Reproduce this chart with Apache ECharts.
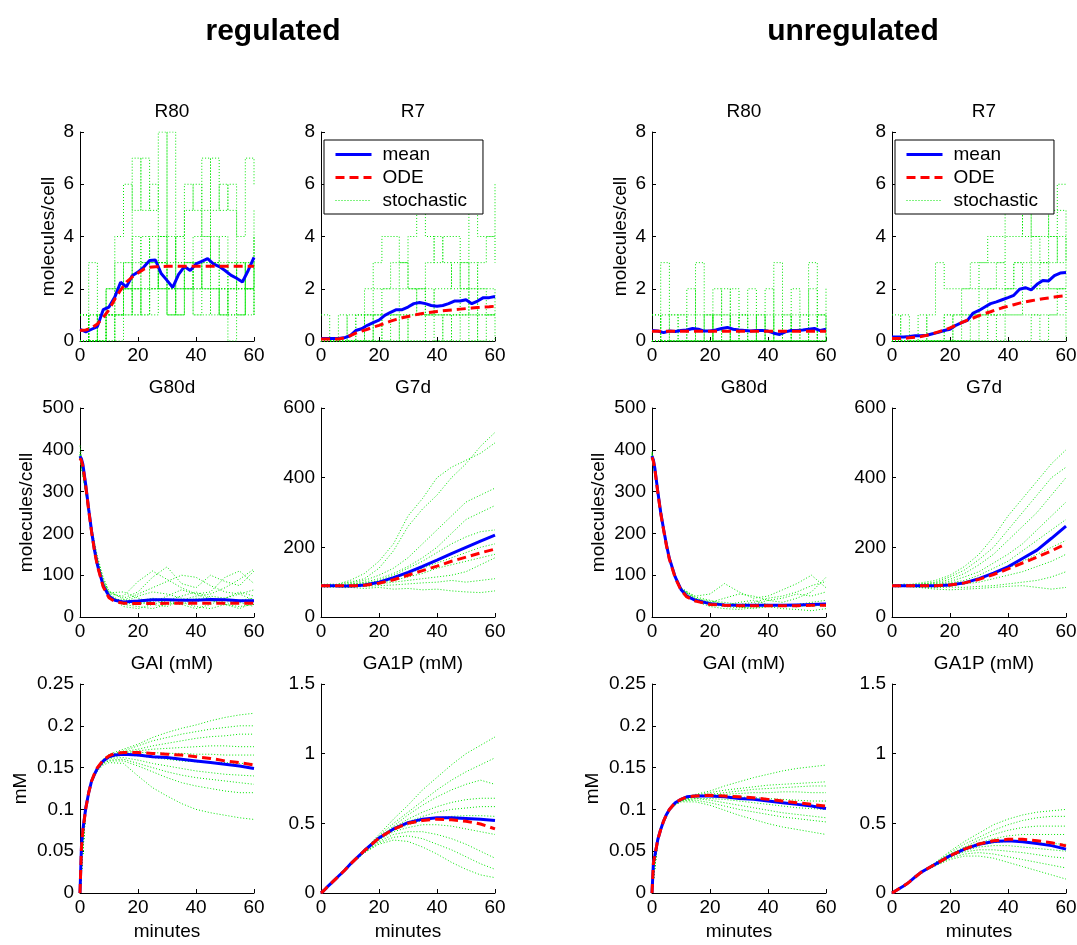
<!DOCTYPE html>
<html>
<head>
<meta charset="utf-8">
<script src="https://cdn.jsdelivr.net/npm/echarts@6/dist/echarts.min.js"></script>
<style>
  html, body { margin: 0; padding: 0; background: #fff; }
  #main { width: 1077px; height: 945px; }
</style>
</head>
<body>
<div id="main"></div>
<script>
// time grids, minutes
const tStep = [0,2,4,6,8,10,12,14,16,18,20,22,24,26,28,30,32,34,36,38,40,42,44,46,48,50,52,54,56,58,60];
const tSmooth = [0,0.5,1,2,3,4,5,6,8,10,12,15,20,25,30,35,40,45,50,55,60];
const tJump = [0,3,6,9,12,15,18,21,24,27,30,33,36,39,42,45,48,51,54,57,60];
const tCont = [0,2,4,6,8,10,15,20,25,30,35,40,45,50,55,60];

// ---- regulated ----
const regR80Mean = [0.45,0.35,0.45,0.55,1.2,1.3,1.68,2.25,2.07,2.5,2.64,2.83,3.08,3.1,2.58,2.32,2.05,2.55,2.85,2.7,2.95,3.05,3.15,2.95,2.85,2.7,2.52,2.4,2.26,2.7,3.2];
const regR80Ode = [0.4,0.42,0.5,0.65,0.9,1.2,1.6,1.95,2.25,2.45,2.6,2.75,2.82,2.84,2.85,2.86,2.86,2.86,2.86,2.86,2.86,2.86,2.86,2.86,2.86,2.86,2.86,2.86,2.86,2.86,2.86];
const regR80Stoch = [
  [0,3,1,2,4,6,5,7,5,8,4,3,5,6,4,7,5,6,4,7,6],
  [1,0,0,1,2,3,4,3,4,3,8,2,3,4,5,3,4,3,2,3,4],
  [0,0,1,0,1,2,2,3,3,2,1,2,3,2,3,4,3,2,3,2,3],
  [0,1,0,2,3,2,7,5,6,4,3,4,6,5,7,5,6,5,3,2,5],
  [1,0,0,1,1,2,1,2,3,4,2,1,2,3,2,2,1,2,1,2,1],
  [0,0,1,2,2,1,2,1,2,3,2,3,2,3,4,3,2,1,2,1,3],
  [0,1,0,0,1,2,3,4,3,2,1,2,3,3,2,1,2,3,2,3,4],
  [1,0,0,1,0,1,2,3,2,3,2,4,3,2,3,2,1,2,3,2,2],
  [0,0,1,1,2,3,2,1,2,3,2,1,2,1,2,3,2,1,1,2,3],
  [1,0,0,1,1,2,1,2,1,2,1,1,2,1,1,2,1,0,1,2,1]
];
const regR7Mean = [0.1,0.1,0.1,0.1,0.12,0.2,0.4,0.47,0.6,0.7,0.8,0.98,1.1,1.2,1.2,1.3,1.43,1.47,1.43,1.36,1.33,1.36,1.43,1.53,1.53,1.58,1.43,1.53,1.66,1.66,1.7];
const regR7Ode = [0.08,0.08,0.08,0.08,0.12,0.2,0.3,0.38,0.45,0.53,0.6,0.68,0.76,0.83,0.89,0.94,0.99,1.03,1.07,1.1,1.13,1.16,1.18,1.2,1.22,1.24,1.26,1.28,1.3,1.31,1.33];
const regR7Stoch = [
  [0,0,0,0,1,2,3,4,4,3,4,5,4,3,4,4,3,5,4,4,6],
  [0,0,0,1,1,1,2,2,3,3,2,2,3,4,3,2,3,2,3,4,3],
  [1,0,0,0,0,1,1,2,2,3,2,2,1,2,2,3,2,3,2,2,2],
  [0,0,0,0,1,0,1,1,1,2,2,1,2,1,1,1,2,1,2,1,2],
  [0,0,0,0,0,0,0,1,1,1,1,2,1,1,1,1,1,2,1,1,1],
  [0,0,0,0,0,1,0,0,1,0,1,1,1,1,0,1,1,0,1,1,1],
  [0,0,1,0,0,0,1,0,0,1,0,0,1,0,1,0,1,1,0,1,0],
  [0,0,0,0,0,0,0,0,0,0,0,0,0,0,0,0,0,0,0,0,0]
];
const regG80Mean = [385,378,365,315,258,205,160,125,75,50,40,36,38,41,41,40,40,42,41,39,39];
const regG80Ode = [380,374,360,312,255,203,158,122,72,46,37,33,32,32,33,33,33,33,33,33,33];
const regG80Stoch = [
  [390,310,210,140,90,60,45,60,95,120,80,70,100,85,75,110],
  [385,300,195,125,75,50,35,30,40,35,30,45,40,30,35,25],
  [380,295,200,130,85,55,50,85,110,90,70,55,60,95,110,80],
  [395,305,205,128,78,48,30,25,20,30,35,25,20,30,25,30],
  [388,302,198,122,70,45,40,55,70,85,100,95,75,60,55,65],
  [382,298,192,120,72,52,30,38,45,40,50,60,45,35,40,45],
  [410,315,215,145,95,62,42,35,30,25,40,50,55,70,90,115],
  [386,300,200,130,80,50,25,20,30,40,30,20,30,45,55,40],
  [384,296,197,126,82,58,60,45,35,50,65,55,40,30,20,35],
  [380,300,205,132,88,54,35,50,60,55,45,35,50,45,60,50]
];
const regG7Mean = [90,90,90,90,90,90,90,89,89,89,90,92,100,113,128,145,163,182,200,218,235];
const regG7Ode = [90,90,90,90,90,90,90,90,90,90,90,91,97,107,120,133,146,160,172,184,195];
const regG7Stoch = [
  [92,95,90,94,98,100,110,140,190,260,310,350,400,440,490,530],
  [88,90,92,95,100,105,125,160,210,290,340,400,430,450,470,500],
  [90,88,91,90,95,98,105,120,140,170,210,250,290,330,350,370],
  [95,92,90,93,90,94,100,110,125,145,170,200,240,280,300,320],
  [90,93,95,90,92,90,95,105,120,140,160,185,210,230,245,250],
  [88,90,87,89,92,95,98,102,110,125,140,155,170,185,200,210],
  [92,90,93,91,90,92,95,100,105,115,125,140,150,160,170,180],
  [90,88,85,88,90,88,92,95,100,105,110,115,120,130,150,170],
  [93,92,90,88,85,86,88,90,92,95,98,100,105,100,105,110],
  [87,85,88,86,84,85,82,85,80,82,78,80,75,72,70,75]
];
const regGaiMean = [0,0.056,0.076,0.102,0.12,0.134,0.142,0.149,0.158,0.163,0.165,0.166,0.165,0.163,0.162,0.16,0.158,0.156,0.154,0.152,0.149];
const regGaiOde = [0,0.054,0.075,0.101,0.12,0.134,0.143,0.15,0.159,0.164,0.167,0.168,0.168,0.167,0.166,0.165,0.163,0.161,0.158,0.156,0.153];
const regGaiStoch = [
  [0,0.103,0.136,0.151,0.16,0.166,0.172,0.178,0.186,0.192,0.197,0.201,0.206,0.21,0.213,0.215],
  [0,0.101,0.134,0.15,0.159,0.165,0.17,0.176,0.182,0.186,0.19,0.193,0.196,0.198,0.2,0.2],
  [0,0.102,0.135,0.149,0.158,0.164,0.169,0.172,0.176,0.179,0.182,0.185,0.187,0.188,0.19,0.19],
  [0,0.1,0.133,0.148,0.157,0.163,0.168,0.17,0.172,0.173,0.174,0.175,0.176,0.176,0.175,0.175],
  [0,0.102,0.134,0.149,0.158,0.163,0.167,0.168,0.168,0.167,0.167,0.166,0.166,0.165,0.165,0.165],
  [0,0.101,0.133,0.148,0.157,0.162,0.165,0.164,0.162,0.16,0.158,0.157,0.156,0.156,0.155,0.155],
  [0,0.103,0.135,0.149,0.157,0.161,0.162,0.159,0.155,0.152,0.149,0.146,0.144,0.142,0.141,0.14],
  [0,0.1,0.132,0.147,0.155,0.159,0.16,0.155,0.15,0.145,0.141,0.138,0.136,0.134,0.132,0.13],
  [0,0.101,0.133,0.147,0.155,0.158,0.158,0.152,0.145,0.138,0.132,0.128,0.125,0.122,0.12,0.12],
  [0,0.102,0.133,0.146,0.153,0.156,0.155,0.14,0.126,0.116,0.107,0.1,0.096,0.093,0.09,0.088]
];
const regGa1pMean = [0,0.008,0.018,0.04,0.06,0.08,0.1,0.12,0.16,0.205,0.245,0.305,0.395,0.46,0.505,0.53,0.54,0.54,0.535,0.53,0.52];
const regGa1pOde = [0,0.008,0.018,0.04,0.06,0.08,0.1,0.12,0.16,0.205,0.245,0.305,0.395,0.458,0.5,0.52,0.53,0.525,0.515,0.495,0.46];
const regGa1pStoch = [
  [0,0.04,0.08,0.12,0.16,0.2,0.31,0.42,0.53,0.63,0.74,0.83,0.92,1.0,1.06,1.12],
  [0,0.04,0.08,0.12,0.16,0.205,0.31,0.41,0.5,0.58,0.66,0.74,0.81,0.87,0.92,0.97],
  [0,0.04,0.08,0.12,0.16,0.2,0.3,0.4,0.48,0.56,0.63,0.69,0.74,0.78,0.81,0.78],
  [0,0.04,0.08,0.12,0.16,0.2,0.3,0.4,0.47,0.53,0.58,0.62,0.65,0.67,0.68,0.68],
  [0,0.04,0.08,0.12,0.16,0.2,0.3,0.39,0.46,0.51,0.55,0.58,0.6,0.61,0.62,0.62],
  [0,0.04,0.08,0.12,0.16,0.2,0.3,0.39,0.45,0.49,0.52,0.54,0.55,0.555,0.555,0.55],
  [0,0.04,0.08,0.12,0.16,0.2,0.3,0.38,0.44,0.47,0.49,0.49,0.48,0.46,0.44,0.42],
  [0,0.04,0.08,0.12,0.16,0.2,0.29,0.37,0.42,0.44,0.44,0.42,0.39,0.35,0.3,0.25],
  [0,0.04,0.08,0.12,0.16,0.2,0.29,0.36,0.4,0.41,0.39,0.35,0.31,0.26,0.21,0.17],
  [0,0.04,0.08,0.12,0.16,0.2,0.29,0.35,0.38,0.37,0.33,0.28,0.22,0.17,0.13,0.11]
];

// ---- unregulated ----
const unregR80Mean = [0.4,0.38,0.32,0.38,0.36,0.4,0.42,0.48,0.45,0.38,0.38,0.42,0.48,0.52,0.45,0.42,0.4,0.38,0.4,0.4,0.38,0.3,0.25,0.35,0.4,0.4,0.42,0.45,0.48,0.4,0.45];
const unregR80Ode = [0.37,0.37,0.37,0.37,0.37,0.37,0.37,0.37,0.37,0.37,0.37,0.37,0.37,0.37,0.37,0.37,0.37,0.37,0.37,0.37,0.37,0.37,0.37,0.37,0.37,0.37,0.37,0.37,0.37,0.37,0.37];
const unregR80Stoch = [
  [0,3,1,0,0,3,1,0,0,1,0,0,1,0,3,1,0,0,3,1,0],
  [1,0,0,1,2,0,0,1,2,0,1,2,0,0,1,0,2,1,2,0,1],
  [0,1,0,0,1,1,0,2,1,0,0,1,0,1,0,0,1,0,0,1,2],
  [0,0,1,1,0,0,1,0,0,2,1,0,0,2,0,1,0,1,0,0,0],
  [0,0,0,0,0,0,0,1,0,0,1,0,0,0,0,0,0,0,1,0,0],
  [1,0,0,0,0,0,0,0,1,0,0,0,1,0,0,0,0,0,0,0,0],
  [0,0,0,0,0,0,0,0,0,0,0,0,0,0,0,0,0,0,0,1,0],
  [0,0,0,0,0,0,1,0,0,0,0,0,0,0,0,0,0,0,0,0,0]
];
const unregR7Mean = [0.15,0.15,0.15,0.17,0.2,0.2,0.22,0.28,0.33,0.4,0.45,0.6,0.7,0.79,1.07,1.17,1.3,1.43,1.5,1.58,1.66,1.75,1.98,2.04,1.96,2.17,2.32,2.3,2.5,2.6,2.62];
const unregR7Ode = [0.1,0.1,0.1,0.12,0.14,0.17,0.22,0.28,0.35,0.42,0.5,0.6,0.7,0.8,0.88,0.97,1.05,1.12,1.2,1.27,1.33,1.39,1.45,1.5,1.54,1.58,1.62,1.65,1.68,1.71,1.73];
const unregR7Stoch = [
  [0,0,0,0,1,3,2,2,2,3,3,4,4,5,5,4,5,5,4,6,6],
  [0,0,0,0,0,0,1,1,2,2,3,3,3,4,4,5,4,4,5,5,4],
  [1,0,0,0,0,0,0,1,1,1,2,2,3,2,3,3,4,3,4,3,4],
  [0,0,0,0,0,0,0,0,1,1,1,2,2,2,3,2,3,3,3,4,3],
  [0,1,0,0,0,0,0,0,0,1,1,1,1,2,2,2,2,3,2,2,3],
  [0,0,0,1,0,0,0,0,0,0,1,1,1,1,1,2,2,2,2,2,2],
  [0,0,0,0,0,0,1,0,0,0,0,1,0,1,1,1,1,1,1,2,1],
  [0,0,0,0,0,0,0,0,0,0,0,0,0,0,0,0,1,0,1,1,0]
];
const unregG80Mean = [385,375,355,300,250,210,172,140,96,66,50,40,32,29,28,28,28,28,29,30,31];
const unregG80Ode = [382,372,352,298,248,208,170,138,94,64,48,38,30,28,27,27,27,27,27,28,28];
const unregG80Stoch = [
  [390,305,215,145,100,70,45,35,30,25,30,40,35,45,60,95],
  [385,300,210,140,98,68,42,30,28,35,40,30,25,30,35,40],
  [380,298,208,138,95,65,50,55,80,60,45,50,65,80,100,70],
  [395,310,212,142,96,64,38,25,20,18,22,25,20,18,15,20],
  [388,302,206,140,94,66,40,35,45,55,50,40,45,55,50,60],
  [382,300,210,138,97,70,48,40,30,25,20,25,30,28,25,30],
  [392,308,214,144,99,67,44,38,35,30,35,45,50,60,75,85],
  [386,304,208,139,95,63,36,30,25,22,25,30,28,24,30,25]
];
const unregG7Mean = [90,90,90,90,90,90,90,90,90,90,90,90,92,98,110,126,144,168,192,226,261];
const unregG7Ode = [90,90,90,90,90,90,90,90,90,90,90,90,92,98,108,122,138,155,172,190,210];
const unregG7Stoch = [
  [92,90,95,93,96,98,105,120,145,180,230,290,340,390,440,480],
  [88,92,90,94,92,95,100,115,135,165,200,250,300,350,400,430],
  [95,90,92,90,93,95,98,108,125,150,180,220,260,300,350,400],
  [90,93,88,92,90,93,96,102,115,130,155,180,210,250,290,330],
  [87,90,92,88,91,90,94,98,105,120,140,160,190,220,250,280],
  [92,88,90,91,89,92,92,95,100,110,125,140,160,180,200,220],
  [90,92,89,90,88,90,90,92,95,100,110,120,130,145,160,180],
  [88,86,88,87,86,85,84,86,85,88,90,95,100,105,115,130],
  [90,89,87,88,86,84,80,78,80,82,85,88,90,85,80,85]
];
const unregGaiMean = [0,0.037,0.045,0.064,0.076,0.086,0.094,0.1,0.108,0.112,0.115,0.116,0.116,0.115,0.113,0.112,0.11,0.108,0.106,0.104,0.101];
const unregGaiOde = [0,0.036,0.045,0.064,0.076,0.086,0.094,0.1,0.108,0.112,0.115,0.116,0.117,0.116,0.115,0.114,0.112,0.11,0.108,0.106,0.104];
const unregGaiStoch = [
  [0,0.064,0.086,0.1,0.108,0.113,0.118,0.122,0.128,0.133,0.138,0.142,0.146,0.149,0.151,0.153],
  [0,0.065,0.087,0.101,0.108,0.112,0.117,0.12,0.123,0.125,0.127,0.129,0.13,0.131,0.132,0.133],
  [0,0.063,0.086,0.1,0.107,0.112,0.116,0.118,0.12,0.122,0.124,0.125,0.126,0.127,0.128,0.128],
  [0,0.064,0.085,0.099,0.107,0.111,0.115,0.117,0.118,0.119,0.12,0.12,0.121,0.121,0.12,0.12],
  [0,0.064,0.086,0.1,0.108,0.112,0.115,0.116,0.116,0.115,0.114,0.113,0.112,0.111,0.11,0.11],
  [0,0.063,0.085,0.099,0.106,0.11,0.113,0.113,0.112,0.11,0.108,0.106,0.104,0.102,0.101,0.1],
  [0,0.065,0.086,0.1,0.107,0.111,0.113,0.111,0.108,0.105,0.102,0.099,0.096,0.094,0.092,0.09],
  [0,0.064,0.085,0.099,0.106,0.11,0.111,0.108,0.104,0.1,0.097,0.094,0.091,0.089,0.087,0.085],
  [0,0.063,0.084,0.098,0.105,0.109,0.109,0.105,0.099,0.093,0.088,0.083,0.079,0.076,0.073,0.07]
];
const unregGa1pMean = [0,0.005,0.012,0.025,0.038,0.05,0.064,0.08,0.115,0.148,0.172,0.207,0.267,0.315,0.35,0.37,0.375,0.367,0.356,0.34,0.315];
const unregGa1pOde = [0,0.005,0.012,0.025,0.038,0.05,0.064,0.08,0.115,0.148,0.172,0.207,0.267,0.315,0.352,0.375,0.385,0.385,0.375,0.36,0.338];
const unregGa1pStoch = [
  [0,0.025,0.05,0.08,0.115,0.15,0.22,0.3,0.37,0.43,0.49,0.53,0.56,0.58,0.59,0.6],
  [0,0.025,0.05,0.08,0.115,0.148,0.215,0.29,0.35,0.4,0.45,0.49,0.52,0.54,0.55,0.55],
  [0,0.025,0.05,0.08,0.114,0.148,0.21,0.28,0.33,0.38,0.42,0.45,0.47,0.48,0.48,0.48],
  [0,0.025,0.05,0.08,0.115,0.147,0.21,0.275,0.325,0.36,0.39,0.41,0.42,0.42,0.42,0.42],
  [0,0.025,0.05,0.08,0.114,0.147,0.207,0.27,0.315,0.345,0.36,0.37,0.37,0.36,0.355,0.35],
  [0,0.025,0.05,0.08,0.113,0.146,0.205,0.265,0.305,0.33,0.34,0.34,0.33,0.32,0.31,0.3],
  [0,0.025,0.05,0.08,0.113,0.146,0.2,0.26,0.295,0.31,0.31,0.3,0.29,0.275,0.26,0.25],
  [0,0.025,0.05,0.08,0.112,0.145,0.198,0.25,0.28,0.29,0.28,0.26,0.24,0.22,0.2,0.18],
  [0,0.025,0.05,0.08,0.112,0.144,0.195,0.24,0.265,0.265,0.25,0.22,0.19,0.16,0.13,0.1]
];

const FONT = "'Liberation Sans', Arial, Helvetica, sans-serif";
const colLeft = [80, 321, 652, 892];
const rowTop = [132, 408, 684];
const plotW = 174, plotH = 209;

// one entry per subplot
const panels = [
  { col: 0, row: 0, title: 'R80', max: 8, step: 2, yName: 'molecules/cell', gap: 22, t: tStep, mean: regR80Mean, ode: regR80Ode, ts: tJump, stoch: regR80Stoch, jump: true },
  { col: 1, row: 0, title: 'R7', max: 8, step: 2, t: tStep, mean: regR7Mean, ode: regR7Ode, ts: tJump, stoch: regR7Stoch, jump: true, legend: true },
  { col: 2, row: 0, title: 'R80', max: 8, step: 2, yName: 'molecules/cell', gap: 22, t: tStep, mean: unregR80Mean, ode: unregR80Ode, ts: tJump, stoch: unregR80Stoch, jump: true },
  { col: 3, row: 0, title: 'R7', max: 8, step: 2, t: tStep, mean: unregR7Mean, ode: unregR7Ode, ts: tJump, stoch: unregR7Stoch, jump: true, legend: true },
  { col: 0, row: 1, title: 'G80d', max: 500, step: 100, yName: 'molecules/cell', gap: 44, t: tSmooth, mean: regG80Mean, ode: regG80Ode, ts: tCont, stoch: regG80Stoch },
  { col: 1, row: 1, title: 'G7d', max: 600, step: 200, t: tSmooth, mean: regG7Mean, ode: regG7Ode, ts: tCont, stoch: regG7Stoch },
  { col: 2, row: 1, title: 'G80d', max: 500, step: 100, yName: 'molecules/cell', gap: 44, t: tSmooth, mean: unregG80Mean, ode: unregG80Ode, ts: tCont, stoch: unregG80Stoch },
  { col: 3, row: 1, title: 'G7d', max: 600, step: 200, t: tSmooth, mean: unregG7Mean, ode: unregG7Ode, ts: tCont, stoch: unregG7Stoch },
  { col: 0, row: 2, title: 'GAI (mM)', max: 0.25, step: 0.05, yName: 'mM', gap: 50, t: tSmooth, mean: regGaiMean, ode: regGaiOde, ts: tCont, stoch: regGaiStoch },
  { col: 1, row: 2, title: 'GA1P (mM)', max: 1.5, step: 0.5, t: tSmooth, mean: regGa1pMean, ode: regGa1pOde, ts: tCont, stoch: regGa1pStoch },
  { col: 2, row: 2, title: 'GAI (mM)', max: 0.25, step: 0.05, yName: 'mM', gap: 50, t: tSmooth, mean: unregGaiMean, ode: unregGaiOde, ts: tCont, stoch: unregGaiStoch },
  { col: 3, row: 2, title: 'GA1P (mM)', max: 1.5, step: 0.5, t: tSmooth, mean: unregGa1pMean, ode: unregGa1pOde, ts: tCont, stoch: unregGa1pStoch }
];

function zip(t, v) { return t.map((x, i) => [x, v[i]]); }

const txt = { color: '#000', fontFamily: FONT, fontSize: 19 };
let grid = [], xAxis = [], yAxis = [], series = [], legend = [];
let title = [
  { text: 'regulated', left: 268, top: 12, textAlign: 'center', textStyle: { color: '#000', fontFamily: FONT, fontSize: 30, fontWeight: 'bold' } },
  { text: 'unregulated', left: 848, top: 12, textAlign: 'center', textStyle: { color: '#000', fontFamily: FONT, fontSize: 30, fontWeight: 'bold' } }
];

panels.forEach((p, i) => {
  const left = colLeft[p.col], top = rowTop[p.row];
  grid.push({ left: left, top: top, width: plotW, height: plotH, containLabel: false, outerBoundsMode: 'none' });
  title.push({ text: p.title, left: left + plotW / 2, top: top - 35, textAlign: 'center', textStyle: Object.assign({ fontWeight: 'normal' }, txt) });
  xAxis.push({
    type: 'value', gridIndex: i, min: 0, max: 60, interval: 20,
    axisLine: { show: true, onZero: false, lineStyle: { color: '#000', width: 1 } },
    axisTick: { show: true, inside: true, length: 4, lineStyle: { color: '#000' } },
    axisLabel: Object.assign({ margin: 5 }, txt),
    splitLine: { show: false },
    name: p.row === 2 ? 'minutes' : '', nameLocation: 'middle', nameGap: 29, nameTextStyle: txt
  });
  yAxis.push({
    type: 'value', gridIndex: i, min: 0, max: p.max, interval: p.step,
    axisLine: { show: true, onZero: false, lineStyle: { color: '#000', width: 1 } },
    axisTick: { show: true, inside: true, length: 4, lineStyle: { color: '#000' } },
    axisLabel: Object.assign({ margin: 6 }, txt),
    splitLine: { show: false },
    name: p.yName || '', nameLocation: 'middle', nameRotate: 90, nameGap: p.gap || 20, nameTextStyle: txt
  });
  p.stoch.forEach(tr => {
    series.push({
      name: 'stochastic', type: 'line', xAxisIndex: i, yAxisIndex: i, data: zip(p.ts, tr),
      step: p.jump ? 'end' : false, symbol: 'none', silent: true, color: '#00e600',
      lineStyle: { color: '#00e600', width: 1, type: [1, 2] }
    });
  });
  series.push({
    name: 'mean', type: 'line', xAxisIndex: i, yAxisIndex: i, data: zip(p.t, p.mean),
    symbol: 'none', silent: true, color: '#0000ff', lineStyle: { color: '#0000ff', width: 3 }
  });
  series.push({
    name: 'ODE', type: 'line', xAxisIndex: i, yAxisIndex: i, data: zip(p.t, p.ode),
    symbol: 'none', silent: true, color: '#ff0000', lineStyle: { color: '#ff0000', width: 3, type: [9, 5] }
  });
  if (p.legend) {
    legend.push({
      data: [
        { name: 'mean', lineStyle: { width: 3 } },
        { name: 'ODE', lineStyle: { width: 3, type: [9, 5] } },
        { name: 'stochastic', lineStyle: { width: 1, type: [1, 2] } }
      ],
      orient: 'vertical', left: left + 3, top: 140,
      itemWidth: 36, itemHeight: 14, itemGap: 4, selectedMode: false,
      itemStyle: { opacity: 0 },
      backgroundColor: '#fff', borderColor: '#000', borderWidth: 1, borderRadius: 0,
      padding: [5, 16, 4, 10],
      textStyle: Object.assign({ padding: [0, 0, 0, 6] }, txt)
    });
  }
});

const chart = echarts.init(document.getElementById('main'));
chart.setOption({
  backgroundColor: '#fff',
  animation: false,
  title: title,
  legend: legend,
  grid: grid,
  xAxis: xAxis,
  yAxis: yAxis,
  series: series
});
</script>
</body>
</html>
